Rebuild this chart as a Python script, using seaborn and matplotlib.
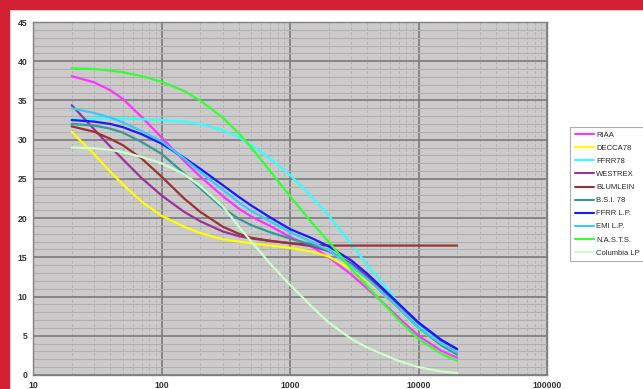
import pandas as pd
import matplotlib
matplotlib.use("Agg")
import matplotlib.pyplot as plt
import matplotlib.ticker as mticker
from matplotlib.patches import Rectangle
import seaborn as sns

freq = [20, 30, 40, 50, 70, 100, 150, 200, 300, 400, 500, 700, 1000, 1500, 2000, 3000, 4000, 5000, 7000, 10000, 15000, 20000]

riaa = [38.1, 37.3, 36.3, 35.2, 32.9, 30.3, 27.3, 25.3, 22.8, 21.2, 20.2, 19.0, 17.6, 16.3, 15.0, 12.8, 11.0, 9.6, 7.3, 5.0, 3.1, 2.2]
decca78 = [31.0, 28.1, 25.9, 24.3, 22.1, 20.3, 18.9, 18.1, 17.3, 17.0, 16.8, 16.5, 16.2, 15.7, 15.1, 13.5, 12.0, 10.7, 8.4, 5.9, 3.8, 2.7]
ffrr78 = [32.6, 32.7, 32.7, 32.7, 32.6, 32.5, 32.3, 32.0, 31.2, 30.3, 29.3, 27.6, 25.5, 22.6, 20.3, 16.7, 14.0, 12.1, 9.2, 6.3, 4.0, 2.9]
westrex = [34.4, 31.3, 29.1, 27.5, 25.1, 22.9, 20.8, 19.6, 18.3, 17.7, 17.4, 17.1, 16.8, 16.4, 15.8, 14.2, 12.6, 11.2, 9.0, 6.6, 4.4, 3.3]
blumlein = [31.7, 31.0, 30.1, 29.3, 27.6, 25.3, 22.5, 20.8, 18.9, 18.0, 17.5, 17.1, 16.8, 16.6, 16.5, 16.5, 16.5, 16.5, 16.5, 16.5, 16.5, 16.5]
bsi78 = [32.0, 31.8, 31.4, 30.9, 29.7, 28.2, 25.7, 23.8, 21.3, 19.9, 19.1, 18.2, 17.4, 16.6, 15.9, 14.0, 12.3, 10.8, 8.5, 6.0, 3.8, 2.6]
ffrr_lp = [32.5, 32.3, 32.0, 31.6, 30.7, 29.5, 27.7, 26.3, 24.2, 22.7, 21.6, 20.1, 18.6, 17.4, 16.4, 14.6, 12.9, 11.4, 9.1, 6.7, 4.5, 3.3]
emi_lp = [34.0, 33.4, 32.8, 32.2, 31.1, 29.8, 27.6, 25.9, 23.6, 22.0, 20.9, 19.6, 18.2, 16.9, 15.9, 13.9, 12.2, 10.8, 8.5, 6.0, 4.0, 2.9]
nasts = [39.1, 39.0, 38.8, 38.6, 38.1, 37.4, 36.2, 35.0, 32.8, 30.8, 29.0, 26.0, 22.8, 19.3, 17.0, 13.5, 11.3, 9.6, 7.0, 4.6, 2.7, 1.8]
columbia = [29.0, 28.9, 28.7, 28.4, 27.8, 27.0, 25.6, 24.1, 21.5, 18.9, 17.0, 14.2, 11.5, 8.6, 6.7, 4.6, 3.5, 2.8, 1.8, 1.0, 0.45, 0.25]

names = ["RIAA", "DECCA78", "FFRR78", "WESTREX", "BLUMLEIN", "B.S.I. 78",
         "FFRR L.P.", "EMI L.P.", "N.A.S.T.S.", "Columbia LP"]
series = [riaa, decca78, ffrr78, westrex, blumlein, bsi78, ffrr_lp, emi_lp, nasts, columbia]
colors = ["#ff33ff", "#ffff00", "#33ffff", "#993399", "#993333", "#339999",
          "#1a1aff", "#33ccff", "#33ff33", "#ccffcc"]

rows = []
for n, s in zip(names, series):
    for f, v in zip(freq, s):
        rows.append({"freq": f, "level": v, "curve": n})
df = pd.DataFrame(rows)

sns.set_style("white")
plt.rcParams['font.family'] = ['Liberation Sans', 'DejaVu Sans']

fig = plt.figure(figsize=(6.43, 3.89), dpi=100)
ax = fig.add_axes([33/643, 14/389, 514/643, 353/389])
ax.set_facecolor("#cccaca")

sns.lineplot(data=df, x="freq", y="level", hue="curve", hue_order=names,
             palette=colors, linewidth=1.6, ax=ax, legend=True)

ax.set_xscale("log")
ax.set_xlim(10, 100000)
ax.set_ylim(0, 45)
ax.xaxis.set_major_locator(mticker.FixedLocator([10, 100, 1000, 10000, 100000]))
ax.xaxis.set_major_formatter(mticker.FuncFormatter(lambda v, p: "%d" % v))
ax.xaxis.set_minor_locator(mticker.LogLocator(base=10, subs=range(2, 10)))
ax.xaxis.set_minor_formatter(mticker.NullFormatter())
ax.yaxis.set_major_locator(mticker.MultipleLocator(5))
ax.yaxis.set_minor_locator(mticker.MultipleLocator(1))

ax.set_axisbelow(True)
ax.grid(which="major", color="#808080", linewidth=1.3)
ax.grid(which="minor", axis="y", color="#b0b0b0", linewidth=0.8)
ax.grid(which="minor", axis="x", color="#b4b4b4", linewidth=0.7, linestyle=(0, (3, 2)))

ax.tick_params(axis="both", which="major", labelsize=6.2, colors="#333333", length=2, pad=2)
ax.tick_params(axis="both", which="minor", length=0)
for lab in ax.get_xticklabels() + ax.get_yticklabels():
    lab.set_fontweight("bold")
ax.set_xlabel("")
ax.set_ylabel("")
for sp in ax.spines.values():
    sp.set_color("#808080")
    sp.set_linewidth(1)

handles, labels = ax.get_legend_handles_labels()
ax.get_legend().remove()
leg = fig.legend(handles, labels, loc="upper left", bbox_to_anchor=(570/643, 1 - 127/389),
                 fontsize=5.5, frameon=True, fancybox=False, handlelength=2.6,
                 handletextpad=0.2, labelspacing=0.75, borderpad=0.6, borderaxespad=0)
leg.get_frame().set_edgecolor("#999999")
leg.get_frame().set_linewidth(0.8)
for line in leg.get_lines():
    line.set_linewidth(1.5)

# red frame strips on the left and top
fig.patches.append(Rectangle((0, 0), 9/643, 1, transform=fig.transFigure, color="#d32033", zorder=10))
fig.patches.append(Rectangle((0, 1 - 9/389), 1, 9/389, transform=fig.transFigure, color="#d32033", zorder=10))

plt.savefig("out.png", dpi=100)
